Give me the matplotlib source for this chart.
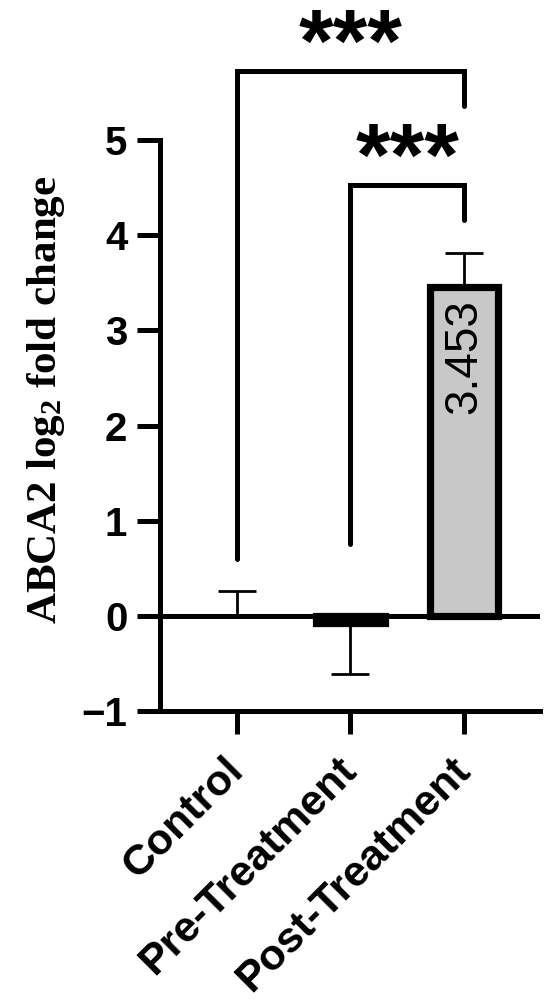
import matplotlib
matplotlib.use("Agg")
import matplotlib.pyplot as plt

# data
groups = ["Control", "Pre-Treatment", "Post-Treatment"]
means = [0.0, -0.08, 3.453]
err_low = [0.0, 0.53, 0.0]
err_high = [0.26, 0.0, 0.36]
yticks = [-1, 0, 1, 2, 3, 4, 5]
bar_label = "3.453"

# significance brackets: (x_left, x_right, bracket height, left leg end, right leg end, text)
brackets = [
    (0, 2, 5.73, 0.60, 5.36, "***"),
    (1, 2, 4.53, 0.76, 4.16, "***"),
]

plt.rcParams["font.family"] = ["Liberation Sans", "DejaVu Sans"]
plt.rcParams["mathtext.fontset"] = "custom"
plt.rcParams["mathtext.rm"] = "Liberation Serif:bold"
plt.rcParams["mathtext.bf"] = "Liberation Serif:bold"
plt.rcParams["mathtext.it"] = "Liberation Serif:italic:bold"

fig = plt.figure(figsize=(5.5, 10.08), dpi=100)
ax = fig.add_axes([0.2909, 0.2946, 0.691, 0.5665])

lw = 3.6
x = list(range(len(groups)))
# a zero-height bar has no visible outline in the original
edge_w = [5.2 if m != 0 else 0 for m in means]
ax.bar(x, means, width=0.6, color="#c8c8c8", edgecolor="black", linewidth=edge_w, zorder=3)
ax.errorbar(x, means, yerr=[err_low, err_high], fmt="none", ecolor="black",
            elinewidth=2.0, capsize=14, capthick=2.0, zorder=2)
ax.axhline(0, color="black", lw=lw, zorder=4)

ax.text(2, 2.72, bar_label, rotation=90, ha="center", va="center", fontsize=33, zorder=5)

for x0, x1, h, l0, l1, txt in brackets:
    ax.plot([x0, x0, x1, x1], [l0, h, h, l1], color="black", lw=lw,
            solid_capstyle="round", solid_joinstyle="miter", clip_on=False, zorder=5)
    ax.text((x0 + x1) / 2, h + 0.24, txt, ha="center", va="center",
            fontsize=64, fontweight="bold", clip_on=False)

ax.set_xlim(-0.678, 2.67)
ax.set_ylim(-1, 5)
ax.set_yticks(yticks)
ax.set_yticklabels([str(t).replace("-", "\u2212") for t in yticks])
ax.set_xticks(x)
ax.set_xticklabels(groups)

for s in ["top", "right"]:
    ax.spines[s].set_visible(False)
for s in ["left", "bottom"]:
    ax.spines[s].set_linewidth(lw)

ax.tick_params(axis="both", length=16.5, width=lw, pad=7)
ax.tick_params(axis="y", labelsize=29)
ax.tick_params(axis="x", labelsize=31, pad=22)
for lab in ax.get_yticklabels():
    lab.set_fontweight("bold")
for lab in ax.get_xticklabels():
    lab.set_fontweight("bold")
    lab.set_rotation(45)
    lab.set_ha("right")
    lab.set_va("center")
    lab.set_rotation_mode("anchor")

ax.set_ylabel("ABCA2 log$_2$ fold change", family="Liberation Serif",
              fontweight="bold", fontsize=31)
ax.yaxis.set_label_coords(-0.245, 0.545)

fig.savefig("out.png", dpi=100)
